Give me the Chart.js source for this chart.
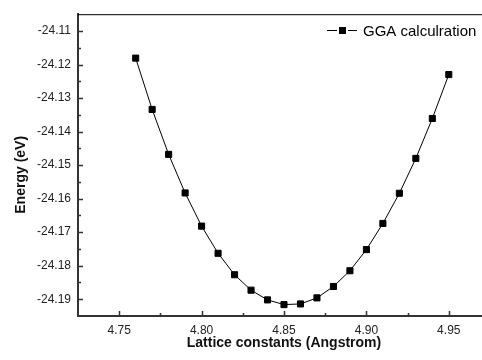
<!DOCTYPE html>
<html>
<head>
<meta charset="utf-8">
<script src="https://cdn.jsdelivr.net/npm/chart.js@4.4.0/dist/chart.umd.min.js"></script>
<style>
html, body { margin: 0; padding: 0; background: #fff; overflow: hidden; }
#wrap { width: 500px; height: 360px; }
</style>
</head>
<body>
<div id="wrap"><canvas id="energy-chart" width="500" height="360"></canvas></div>
<script>
var latticeConstants = [4.76, 4.77, 4.78, 4.79, 4.80, 4.81, 4.82, 4.83, 4.84, 4.85,
                        4.86, 4.87, 4.88, 4.89, 4.90, 4.91, 4.92, 4.93, 4.94, 4.95];
var ggaEnergy = [-24.1181, -24.1334, -24.1468, -24.1583, -24.1682, -24.1763, -24.1827, -24.1873, -24.1902, -24.1916,
                 -24.1914, -24.1896, -24.1862, -24.1815, -24.1752, -24.1674, -24.1584, -24.1480, -24.1361, -24.1230];
var seriesLabel = 'GGA calculration';

var xTicks = [4.75, 4.80, 4.85, 4.90, 4.95];
var xMinorTicks = [4.775, 4.825, 4.875, 4.925];
var yTicks = [-24.19, -24.18, -24.17, -24.16, -24.15, -24.14, -24.13, -24.12, -24.11];
var yMinorTicks = [-24.185, -24.175, -24.165, -24.155, -24.145, -24.135, -24.125, -24.115];

var fontFamily = 'Arial, "Liberation Sans", sans-serif';

// origin style ticks: pointing into the plot
var insideTicks = {
    id: 'insideTicks',
    afterDraw: function(chart) {
        var ctx = chart.ctx;
        var area = chart.chartArea;
        var xs = chart.scales.x;
        var ys = chart.scales.y;
        ctx.save();
        ctx.strokeStyle = '#333';
        ctx.lineWidth = 1.5;
        ctx.beginPath();
        xTicks.forEach(function(v) {
            var px = Math.round(xs.getPixelForValue(v)) + 0.5;
            ctx.moveTo(px, area.bottom); ctx.lineTo(px, area.bottom - 5);
        });
        xMinorTicks.forEach(function(v) {
            var px = Math.round(xs.getPixelForValue(v)) + 0.5;
            ctx.moveTo(px, area.bottom); ctx.lineTo(px, area.bottom - 3);
        });
        yTicks.forEach(function(v) {
            var py = Math.round(ys.getPixelForValue(v)) + 0.5;
            ctx.moveTo(area.left, py); ctx.lineTo(area.left + 5, py);
        });
        yMinorTicks.forEach(function(v) {
            var py = Math.round(ys.getPixelForValue(v)) + 0.5;
            ctx.moveTo(area.left, py); ctx.lineTo(area.left + 3, py);
        });
        ctx.stroke();

        // top frame
        ctx.strokeStyle = '#000';
        ctx.lineWidth = 1;
        ctx.beginPath();
        ctx.moveTo(area.left, area.top + 0.5);
        ctx.lineTo(area.right, area.top + 0.5);
        ctx.stroke();
        ctx.restore();
    }
};

// legend inside the plot, top right
var innerLegend = {
    id: 'innerLegend',
    afterDatasetsDraw: function(chart) {
        var ctx = chart.ctx;
        var y = 30.5;
        ctx.save();
        ctx.strokeStyle = '#000';
        ctx.lineWidth = 1;
        ctx.beginPath();
        ctx.moveTo(327, y); ctx.lineTo(337, y);
        ctx.moveTo(348, y); ctx.lineTo(357, y);
        ctx.stroke();
        ctx.fillStyle = '#000';
        ctx.fillRect(339, y - 3.5, 7, 7);
        ctx.font = '15px ' + fontFamily;
        ctx.textBaseline = 'alphabetic';
        ctx.fillText(chart.data.datasets[0].label, 363, 35.5);
        ctx.restore();
    }
};

var ctx = document.getElementById('energy-chart').getContext('2d');

var points = latticeConstants.map(function(x, i) {
    return { x: x, y: ggaEnergy[i] };
});

var energyChart = new Chart(ctx, {
    type: 'line',
    data: {
        datasets: [{
            label: seriesLabel,
            data: points,
            borderColor: '#000',
            borderWidth: 1,
            backgroundColor: '#000',
            pointStyle: 'rect',
            pointRadius: 4.3,
            pointBackgroundColor: '#000',
            pointBorderColor: '#000',
            pointBorderWidth: 1,
            tension: 0,
            fill: false
        }]
    },
    options: {
        responsive: false,
        animation: false,
        layout: { padding: { top: 11, right: 10, left: 0, bottom: 0 } },
        plugins: {
            legend: { display: false },
            tooltip: { enabled: false }
        },
        scales: {
            x: {
                type: 'linear',
                min: 4.725,
                max: 4.975,
                grid: { display: false, drawTicks: false },
                border: { display: true, color: '#333', width: 2 },
                afterBuildTicks: function(scale) {
                    scale.ticks = xTicks.map(function(v) { return { value: v }; });
                },
                afterFit: function(scale) { scale.height = 44; },
                ticks: {
                    padding: 7,
                    color: '#222',
                    font: { family: fontFamily, size: 12 },
                    callback: function(value) { return value.toFixed(2); }
                },
                title: {
                    display: true,
                    text: 'Lattice constants (Angstrom)',
                    color: '#111',
                    font: { family: fontFamily, size: 14, weight: 'bold' },
                    padding: { top: 0, bottom: 8 }
                }
            },
            y: {
                type: 'linear',
                min: -24.195,
                max: -24.105,
                grid: { display: false, drawTicks: false },
                border: { display: true, color: '#333', width: 2 },
                afterBuildTicks: function(scale) {
                    scale.ticks = yTicks.map(function(v) { return { value: v }; });
                },
                afterFit: function(scale) { scale.width = 78; },
                ticks: {
                    padding: 7,
                    color: '#222',
                    font: { family: fontFamily, size: 12 },
                    callback: function(value) { return value.toFixed(2); }
                },
                title: {
                    display: true,
                    text: 'Energy (eV)     ',
                    color: '#111',
                    font: { family: fontFamily, size: 14, weight: 'bold' },
                    padding: { top: 13, bottom: 0 }
                }
            }
        }
    },
    plugins: [insideTicks, innerLegend]
});
</script>
</body>
</html>
